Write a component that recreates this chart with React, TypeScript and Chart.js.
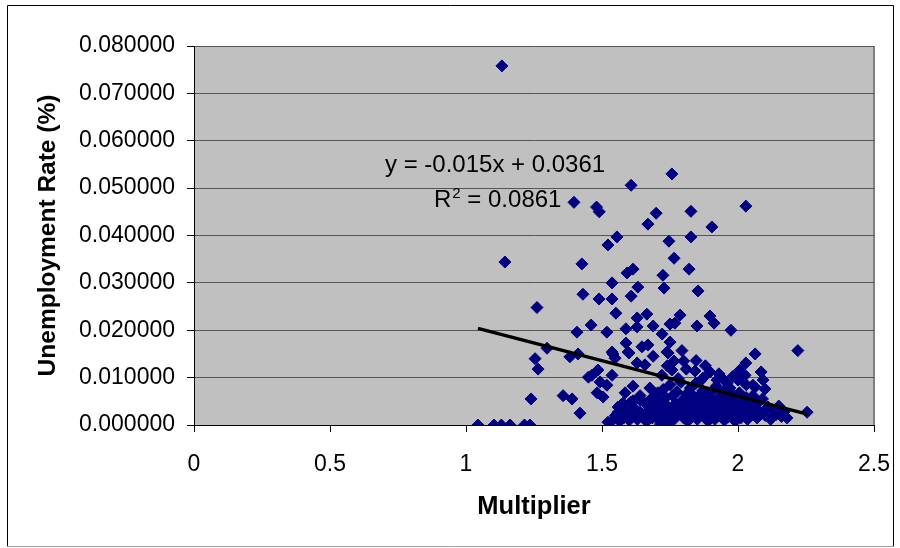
import React, { useEffect, useRef } from "react";
import { Chart, registerables } from "chart.js";

Chart.register(...registerables);

// Multiplier (x) and unemployment rate (y)
const multiplier: number[] = [
  1.132, 1.143, 1.397, 1.480, 1.490, 1.607, 1.757, 2.029, 1.699, 1.827,
  1.669, 1.904, 1.555, 1.522, 1.746, 1.827, 1.426, 1.765, 1.592, 1.614,
  1.820, 1.724, 1.537, 1.632, 1.728, 1.853, 1.430, 1.489, 1.537, 1.607,
  1.261, 1.551, 1.665, 1.629, 1.787, 1.768, 1.688, 1.750, 1.849, 1.897,
  1.912, 1.974, 1.460, 1.408, 1.518, 1.588, 1.629, 1.721, 1.298, 1.588,
  1.750, 1.647, 1.669, 1.794, 1.739, 1.596, 1.537, 1.254, 1.265, 1.382,
  1.412, 1.540, 1.548, 1.599, 1.688, 1.743, 2.063, 2.220, 1.765, 1.846,
  2.029, 1.658, 1.629, 1.842, 1.757, 1.897, 2.085, 2.026, 2.007, 1.982,
  2.092, 2.063, 2.099, 2.055, 1.941, 1.923, 1.871, 1.485, 1.463, 1.537,
  1.450, 1.493, 1.518, 1.614, 1.676, 1.239, 1.357, 1.390, 1.482, 1.504,
  1.585, 1.614, 1.577, 1.640, 1.702, 1.419, 1.559, 1.540, 1.522, 1.640,
  1.658, 1.559, 2.254,
  1.044, 1.103, 1.130, 1.162, 1.215, 1.235,
  1.620, 1.630, 1.640, 1.650, 1.660, 1.665, 1.670, 1.680, 1.685, 1.690,
  1.700, 1.705, 1.710, 1.715, 1.720, 1.725, 1.730, 1.735, 1.740, 1.745,
  1.750, 1.755, 1.760, 1.765, 1.770, 1.775, 1.780, 1.785, 1.790, 1.795,
  1.800, 1.805, 1.810, 1.815, 1.820, 1.825, 1.830, 1.835, 1.840, 1.845,
  1.850, 1.855, 1.860, 1.865, 1.870, 1.875, 1.880, 1.885, 1.890, 1.895,
  1.900, 1.905, 1.910, 1.915, 1.920, 1.925, 1.930, 1.935, 1.940, 1.945,
  1.950, 1.955, 1.960, 1.965, 1.970, 1.975, 1.980, 1.985, 1.990, 1.995,
  2.000, 2.005, 2.010, 2.015, 2.020, 2.030, 2.035, 2.040, 2.050, 2.055,
  2.060, 2.070, 2.075, 2.080, 2.090, 2.100, 2.110, 2.120, 2.130, 2.140,
  2.150, 2.160, 2.170, 2.180,
  1.550, 1.565, 1.570, 1.580, 1.590, 1.600, 1.605, 1.610,
  1.720, 1.780, 1.810, 1.860, 1.880, 1.930, 1.960, 2.000, 2.030, 1.740, 1.800,
  1.675, 1.695, 1.715, 1.790, 1.835, 1.890, 1.945, 1.990, 2.045, 2.065,
];

const unemployment: number[] = [
  0.0758, 0.0344, 0.0470, 0.0460, 0.0450, 0.0506, 0.0530, 0.0462, 0.0447, 0.0451,
  0.0424, 0.0418, 0.0397, 0.0380, 0.0388, 0.0397, 0.0340, 0.0352, 0.0321, 0.0329,
  0.0329, 0.0316, 0.0300, 0.0291, 0.0289, 0.0283, 0.0276, 0.0266, 0.0266, 0.0272,
  0.0248, 0.0236, 0.0234, 0.0226, 0.0232, 0.0215, 0.0209, 0.0213, 0.0209, 0.0230,
  0.0215, 0.0200, 0.0211, 0.0196, 0.0196, 0.0203, 0.0207, 0.0192, 0.0162, 0.0173,
  0.0175, 0.0165, 0.0169, 0.0157, 0.0154, 0.0154, 0.0154, 0.0140, 0.0118, 0.0144,
  0.0150, 0.0150, 0.0141, 0.0152, 0.0145, 0.0152, 0.0150, 0.0157, 0.0135, 0.0136,
  0.0131, 0.0127, 0.0131, 0.0114, 0.0116, 0.0112, 0.0112, 0.0105, 0.0116, 0.0103,
  0.0095, 0.0080, 0.0076, 0.0084, 0.0099, 0.0095, 0.0099, 0.0116, 0.0105, 0.0105,
  0.0101, 0.0091, 0.0084, 0.0082, 0.0078, 0.0055, 0.0062, 0.0055, 0.0068, 0.0059,
  0.0068, 0.0051, 0.0046, 0.0053, 0.0053, 0.0025, 0.0027, 0.0011, 0.0006, 0.0027,
  0.0011, 0.0038, 0.0027,
  0.0000, 0.0000, 0.0000, 0.0000, 0.0000, 0.0000,
  0.0035, 0.0012, 0.0062, 0.0022, 0.0045, 0.0008, 0.0030, 0.0055, 0.0015, 0.0040,
  0.0025, 0.0068, 0.0010, 0.0048, 0.0032, 0.0075, 0.0018, 0.0058, 0.0040, 0.0005,
  0.0085, 0.0028, 0.0062, 0.0012, 0.0045, 0.0070, 0.0022, 0.0035, 0.0090, 0.0052,
  0.0015, 0.0040, 0.0065, 0.0008, 0.0030, 0.0078, 0.0050, 0.0020, 0.0038, 0.0088,
  0.0012, 0.0060, 0.0028, 0.0045, 0.0072, 0.0018, 0.0035, 0.0055, 0.0008, 0.0042,
  0.0068, 0.0025, 0.0050, 0.0012, 0.0082, 0.0035, 0.0058, 0.0020, 0.0045, 0.0070,
  0.0010, 0.0030, 0.0052, 0.0018, 0.0078, 0.0040, 0.0025, 0.0062, 0.0008, 0.0045,
  0.0032, 0.0068, 0.0015, 0.0050, 0.0028, 0.0058, 0.0012, 0.0040, 0.0022, 0.0062,
  0.0035, 0.0015, 0.0048, 0.0028, 0.0055, 0.0020, 0.0038, 0.0012, 0.0030, 0.0022,
  0.0040, 0.0018, 0.0028, 0.0015,
  0.0020, 0.0008, 0.0042, 0.0015, 0.0030, 0.0010, 0.0048, 0.0022,
  0.0105, 0.0098, 0.0118, 0.0092, 0.0125, 0.0108, 0.0088, 0.0095, 0.0085, 0.0125, 0.0135,
  0.0020, 0.0060, 0.0002, 0.0025, 0.0062, 0.0020, 0.0032, 0.0018, 0.0048, 0.0030,
];

// Linear trendline end points (y = -0.015x + 0.0361)
const trendX: number[] = [1.044, 2.254];
const trendY: number[] = [0.0204, 0.0023];

const equationText = "y = -0.015x + 0.0361";
const r2Label = "R";
const r2Sup = "2";
const r2Value = " = 0.0861";

const xTitle = "Multiplier";
const yTitle = "Unemployment Rate (%)";

const FONT = '"Liberation Sans", Arial, sans-serif';

const decorPlugin = {
  id: "decor",
  beforeDraw(chart: any) {
    const { ctx, chartArea: a } = chart;
    ctx.save();
    ctx.fillStyle = "#ffffff";
    ctx.fillRect(0, 0, chart.width, chart.height);
    ctx.fillStyle = "#C0C0C0";
    ctx.fillRect(a.left, a.top, a.right - a.left, a.bottom - a.top);
    ctx.strokeStyle = "#808080";
    ctx.lineWidth = 2;
    ctx.beginPath();
    ctx.moveTo(a.right, a.top);
    ctx.lineTo(a.right, a.bottom);
    ctx.stroke();
    // outer chart border
    ctx.lineWidth = 1;
    ctx.strokeStyle = "#000000";
    ctx.beginPath();
    ctx.moveTo(7.5, 546.5);
    ctx.lineTo(7.5, 5.5);
    ctx.lineTo(893.5, 5.5);
    ctx.lineTo(893.5, 546.5);
    ctx.stroke();
    ctx.strokeStyle = "#a0a0a0";
    ctx.beginPath();
    ctx.moveTo(7.5, 546.5);
    ctx.lineTo(893.5, 546.5);
    ctx.stroke();
    ctx.restore();
  },
  afterDraw(chart: any) {
    const { ctx } = chart;
    ctx.save();
    ctx.fillStyle = "#000000";
    ctx.textBaseline = "alphabetic";
    ctx.textAlign = "left";
    ctx.font = `24px ${FONT}`;
    ctx.fillText(equationText, 385, 172);
    ctx.fillText(r2Label, 434, 207);
    const rw = ctx.measureText(r2Label).width;
    ctx.font = `15px ${FONT}`;
    ctx.fillText(r2Sup, 434 + rw + 1, 198);
    const sw = ctx.measureText(r2Sup).width;
    ctx.font = `24px ${FONT}`;
    ctx.fillText(r2Value, 434 + rw + 1 + sw, 207);
    ctx.restore();
  },
};

export default function App() {
  const ref = useRef<HTMLCanvasElement | null>(null);

  useEffect(() => {
    if (!ref.current) return;
    const points = multiplier.map((x, i) => ({ x, y: unemployment[i] }));
    const trend = trendX.map((x, i) => ({ x, y: trendY[i] }));
    const chart = new Chart(ref.current, {
      type: "scatter",
      data: {
        datasets: [
          {
            label: "Trend",
            data: trend,
            showLine: true,
            borderColor: "#000000",
            borderWidth: 3.5,
            pointRadius: 0,
            fill: false,
          },
          {
            label: "Data",
            data: points,
            pointStyle: "rectRot",
            pointRadius: 6,
            pointBackgroundColor: "#000080",
            pointBorderColor: "#000080",
            pointBorderWidth: 1,
          },
        ],
      },
      options: {
        animation: false,
        responsive: false,
        maintainAspectRatio: false,
        events: [],
        layout: { padding: { left: 30, right: 26, top: 46, bottom: 26 } },
        plugins: {
          legend: { display: false },
          tooltip: { enabled: false },
        },
        scales: {
          x: {
            type: "linear",
            min: 0,
            max: 2.5,
            afterFit: (s: any) => {
              s.height = 97;
              s.paddingLeft = 0;
              s.paddingRight = 0;
            },
            ticks: {
              stepSize: 0.5,
              padding: 19,
              color: "#000000",
              font: { family: FONT, size: 23 },
              callback: (v: any) => String(Number(v)),
            },
            grid: {
              drawOnChartArea: false,
              drawTicks: true,
              tickLength: 7,
              color: "#000000",
            },
            border: { display: true, color: "#000000", width: 1 },
            title: {
              display: true,
              text: xTitle,
              color: "#000000",
              font: { family: FONT, size: 25.5, weight: "bold" },
              padding: { top: 0, bottom: 0 },
            },
          },
          y: {
            type: "linear",
            min: 0,
            max: 0.08,
            afterFit: (s: any) => {
              s.width = 164;
            },
            ticks: {
              stepSize: 0.01,
              padding: 12,
              color: "#000000",
              font: { family: FONT, size: 23 },
              callback: (v: any) => Number(v).toFixed(6),
            },
            grid: {
              drawOnChartArea: true,
              drawTicks: true,
              tickLength: 7,
              color: "#555555",
              tickColor: "#000000",
            },
            border: { display: true, color: "#000000", width: 1 },
            title: {
              display: true,
              text: yTitle,
              color: "#000000",
              font: { family: FONT, size: 24.5, weight: "bold" },
              padding: { top: 4, bottom: 0 },
            },
          },
        },
      },
      plugins: [decorPlugin],
    } as any);
    return () => chart.destroy();
  }, []);

  return (
    <div style={{ position: "absolute", left: 0, top: 0, width: 900, height: 548 }}>
      <canvas ref={ref} width={900} height={548} style={{ width: 900, height: 548 }} />
    </div>
  );
}
